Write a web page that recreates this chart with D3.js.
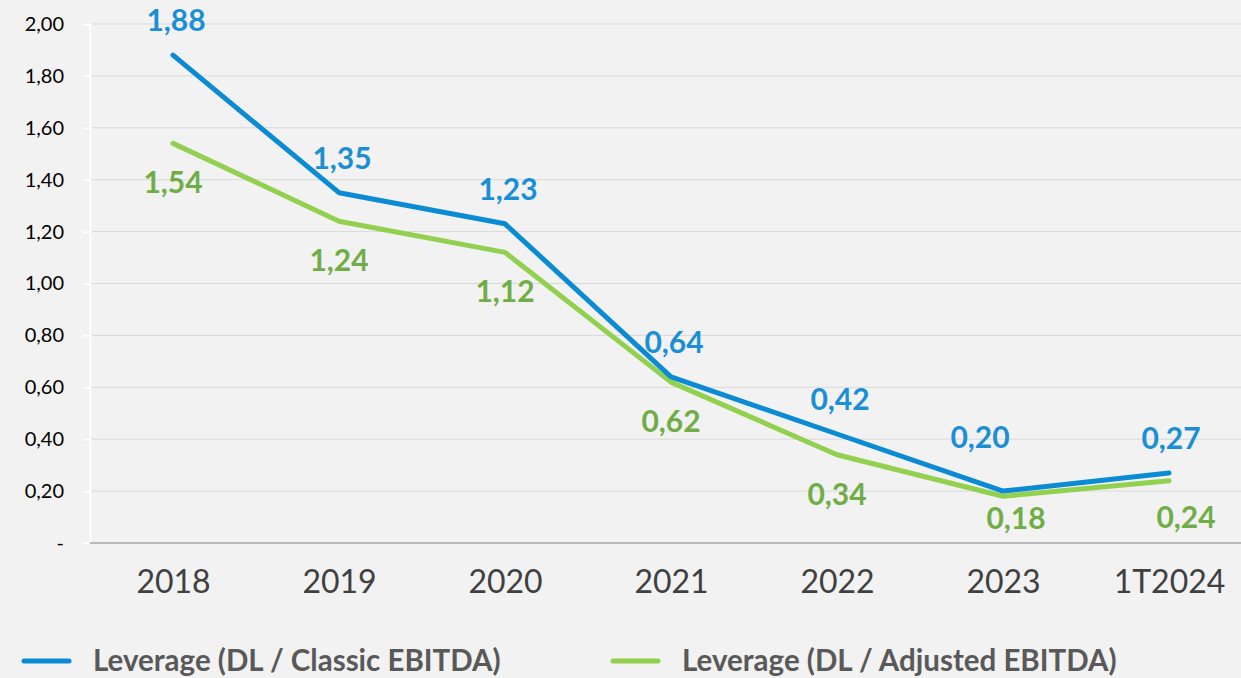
<!DOCTYPE html>
<html>
<head>
<meta charset="utf-8">
<script src="https://cdn.jsdelivr.net/npm/d3@7"></script>
<style>
  body { margin: 0; background: #f2f2f2; }
  svg { display: block; font-family: Lato, "Open Sans", sans-serif; }
</style>
</head>
<body>
<div id="chart"></div>
<script>
// Chart data
const categories = ["2018", "2019", "2020", "2021", "2022", "2023", "1T2024"];
const classicValues = [1.88, 1.35, 1.23, 0.64, 0.42, 0.20, 0.27];
const adjustedValues = [1.54, 1.24, 1.12, 0.62, 0.34, 0.18, 0.24];
const yTicks = [0, 0.2, 0.4, 0.6, 0.8, 1.0, 1.2, 1.4, 1.6, 1.8, 2.0];
const seriesNames = ["Leverage (DL / Classic EBITDA)", "Leverage (DL / Adjusted EBITDA)"];

// Hand-moved labels (as in the original spreadsheet), [dx, dy] in px
const classicNudge = [[3, 0], [3, 0], [3, 0], [3, 0], [3, 0], [-23, -19], [2, 0]];
const adjustedNudge = [[0, 0], [0, 0], [0, 0], [0, 0], [0, 0], [13, -17], [17, -3]];

const width = 1241;
const height = 678;
const margin = { top: 24, right: -11, bottom: 135, left: 90 };

const blue = "#0a8bd3";
const blueText = "#1a8fd5";
const green = "#92d050";
const greenText = "#70ad47";

const svg = d3.select("#chart").append("svg")
    .attr("width", width)
    .attr("height", height);

svg.append("rect")
    .attr("width", width)
    .attr("height", height)
    .attr("fill", "#f2f2f2");

const xScale = d3.scalePoint()
    .domain(categories)
    .range([margin.left + 83, width - margin.right - 83]);

const yScale = d3.scaleLinear()
    .domain([0, 2])
    .range([height - margin.bottom, margin.top]);

const fmt = v => v === 0 ? "-" : v.toFixed(2).replace(".", ",");

// Gridlines
svg.append("g")
    .selectAll("line")
    .data(yTicks.filter(d => d > 0))
    .enter()
    .append("line")
    .attr("x1", margin.left)
    .attr("x2", width)
    .attr("y1", d => yScale(d))
    .attr("y2", d => yScale(d))
    .attr("stroke", "#d9d9d9")
    .attr("stroke-width", 1);

// Y axis
const yAxis = d3.axisLeft(yScale)
    .tickValues(yTicks)
    .tickSize(7)
    .tickPadding(19)
    .tickFormat(fmt);

const yG = svg.append("g")
    .attr("transform", `translate(${margin.left}, 0)`)
    .call(yAxis);
yG.select(".domain").attr("stroke", "#ffffff").attr("stroke-width", 1.5);
yG.selectAll(".tick line").attr("stroke", "#ffffff").attr("stroke-width", 1.5);
yG.selectAll(".tick text")
    .attr("fill", "#000000")
    .style("font-size", "20px")
    .style("font-family", "Lato");

// X axis
const xAxis = d3.axisBottom(xScale)
    .tickSize(0)
    .tickPadding(27)
    .tickFormat(d => d);

const xG = svg.append("g")
    .attr("transform", `translate(0, ${yScale(0)})`)
    .call(xAxis);
xG.select(".domain").remove();
xG.selectAll(".tick text")
    .attr("fill", "#404040")
    .style("font-size", "32px")
    .style("font-family", "Lato");

svg.append("line")
    .attr("x1", margin.left)
    .attr("x2", width)
    .attr("y1", yScale(0))
    .attr("y2", yScale(0))
    .attr("stroke", "#a6a6a6")
    .attr("stroke-width", 1.5);

// Lines
const line = d3.line()
    .x((d, i) => xScale(categories[i]))
    .y(d => yScale(d));

svg.append("path")
    .datum(adjustedValues)
    .attr("fill", "none")
    .attr("stroke", green)
    .attr("stroke-width", 5)
    .attr("stroke-linejoin", "round")
    .attr("stroke-linecap", "round")
    .attr("d", line);

svg.append("path")
    .datum(classicValues)
    .attr("fill", "none")
    .attr("stroke", blue)
    .attr("stroke-width", 5)
    .attr("stroke-linejoin", "round")
    .attr("stroke-linecap", "round")
    .attr("d", line);

// Data labels
svg.append("g")
    .selectAll("text")
    .data(classicValues)
    .enter()
    .append("text")
    .attr("x", (d, i) => xScale(categories[i]) + classicNudge[i][0])
    .attr("y", (d, i) => yScale(d) - 36 + classicNudge[i][1])
    .attr("text-anchor", "middle")
    .attr("dominant-baseline", "central")
    .attr("fill", blueText)
    .style("font-size", "30px")
    .style("font-weight", "bold")
    .text(fmt);

svg.append("g")
    .selectAll("text")
    .data(adjustedValues)
    .enter()
    .append("text")
    .attr("x", (d, i) => xScale(categories[i]) + adjustedNudge[i][0])
    .attr("y", (d, i) => yScale(d) + 38 + adjustedNudge[i][1])
    .attr("text-anchor", "middle")
    .attr("dominant-baseline", "central")
    .attr("fill", greenText)
    .style("font-size", "30px")
    .style("font-weight", "bold")
    .text(fmt);

// Legend (kept a little higher so descenders stay inside the frame)
const legend = svg.append("g");
const legendItems = [
    { name: seriesNames[0], color: blue, x: 24 },
    { name: seriesNames[1], color: green, x: 613 }
];
legendItems.forEach(item => {
    legend.append("line")
        .attr("x1", item.x)
        .attr("x2", item.x + 45)
        .attr("y1", 661)
        .attr("y2", 661)
        .attr("stroke", item.color)
        .attr("stroke-width", 5)
        .attr("stroke-linecap", "round");
    legend.append("text")
        .attr("x", item.x + 69)
        .attr("y", 659)
        .attr("dominant-baseline", "central")
        .attr("fill", "#595959")
        .style("font-size", "29.5px")
        .style("font-weight", "bold")
        .text(item.name);
});
</script>
</body>
</html>
